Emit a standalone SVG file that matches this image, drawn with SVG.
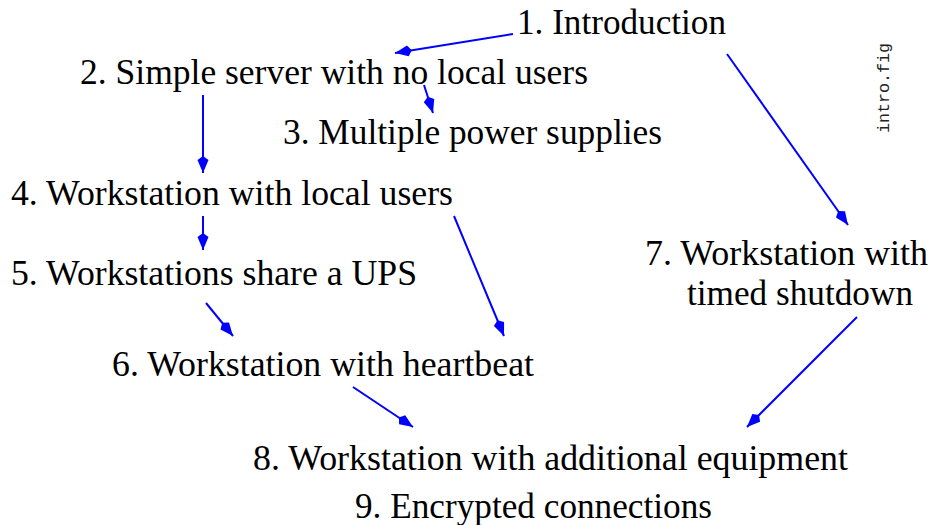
<svg xmlns="http://www.w3.org/2000/svg" width="932" height="525" viewBox="0 0 932 525">
<style>
.t{font-family:"Liberation Serif","Times New Roman",serif;font-size:35px;fill:#000}
.e{stroke:#0000ff;stroke-width:2;fill:none}
.m{font-family:"Liberation Mono","Courier New",monospace;font-size:16.5px;fill:#222}
</style>
<defs>
<marker id="ah" markerUnits="userSpaceOnUse" viewBox="-18 -6 19 12" refX="0" refY="0" markerWidth="19" markerHeight="12" orient="auto">
<path d="M0,0 L-13,-5.5 L-17,0 L-13,5.5 Z" fill="#0000ff"/>
</marker>
</defs>
<rect width="932" height="525" fill="#fff"/>
<g id="n1"><text class="t" x="517" y="34" textLength="209" lengthAdjust="spacingAndGlyphs">1. Introduction</text></g>
<g id="n2"><text class="t" x="80" y="84" textLength="508" lengthAdjust="spacingAndGlyphs">2. Simple server with no local users</text></g>
<g id="n3"><text class="t" x="283" y="144" textLength="379" lengthAdjust="spacingAndGlyphs">3. Multiple power supplies</text></g>
<g id="n4"><text class="t" x="11" y="205" textLength="442" lengthAdjust="spacingAndGlyphs">4. Workstation with local users</text></g>
<g id="n5"><text class="t" x="11" y="285" textLength="406" lengthAdjust="spacingAndGlyphs">5. Workstations share a UPS</text></g>
<g id="n6"><text class="t" x="112" y="376" textLength="422" lengthAdjust="spacingAndGlyphs">6. Workstation with heartbeat</text></g>
<g id="n7"><text class="t" x="645" y="265" textLength="283" lengthAdjust="spacingAndGlyphs">7. Workstation with</text><text class="t" x="687" y="305" textLength="226" lengthAdjust="spacingAndGlyphs">timed shutdown</text></g>
<g id="n8"><text class="t" x="253" y="470" textLength="595" lengthAdjust="spacingAndGlyphs">8. Workstation with additional equipment</text></g>
<g id="n9"><text class="t" x="355" y="518" textLength="357" lengthAdjust="spacingAndGlyphs">9. Encrypted connections</text></g>
<g id="label"><text class="m" transform="translate(889,133) rotate(-90)" textLength="90" lengthAdjust="spacingAndGlyphs">intro.fig</text></g>
<g id="edges">
<line class="e" x1="513" y1="34" x2="395" y2="53" marker-end="url(#ah)"/>
<line class="e" x1="424" y1="85" x2="433" y2="113" marker-end="url(#ah)"/>
<line class="e" x1="203" y1="95" x2="203" y2="173" marker-end="url(#ah)"/>
<line class="e" x1="203" y1="216" x2="203" y2="250" marker-end="url(#ah)"/>
<line class="e" x1="454" y1="216" x2="504" y2="336" marker-end="url(#ah)"/>
<line class="e" x1="206" y1="303" x2="233" y2="336" marker-end="url(#ah)"/>
<line class="e" x1="353" y1="387" x2="413" y2="427" marker-end="url(#ah)"/>
<line class="e" x1="727" y1="54" x2="848" y2="225" marker-end="url(#ah)"/>
<line class="e" x1="857" y1="317" x2="747" y2="427" marker-end="url(#ah)"/>
</g>
</svg>
